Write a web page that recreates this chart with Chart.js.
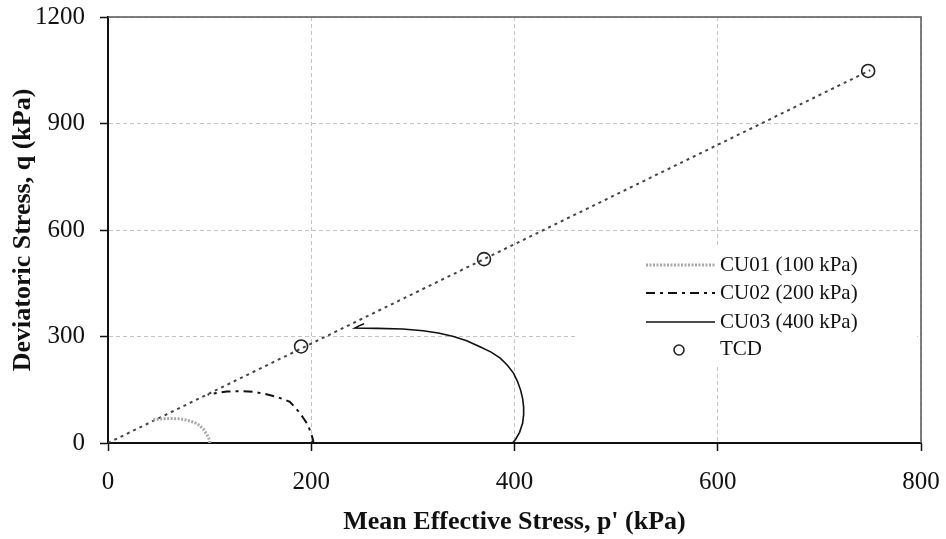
<!DOCTYPE html>
<html>
<head>
<meta charset="utf-8">
<script src="https://cdn.jsdelivr.net/npm/chart.js@4/dist/chart.umd.min.js"></script>
<style>
  html, body { margin: 0; padding: 0; background: #fff; }
  #wrap { width: 946px; height: 539px; }
</style>
</head>
<body>
<div id="wrap"><canvas id="chart"></canvas></div>
<script>
// stress paths, p' and q in kPa
const cu01P = [100, 100, 99, 97, 94, 90, 85, 78, 71, 62, 54, 46, 43];
const cu01Q = [0, 6, 14, 25, 38, 50, 58, 64, 68, 69, 68, 66, 64];

const cu02P = [200, 202, 201, 199, 197, 193, 189, 184, 179, 172, 166, 155, 143, 130, 117, 103, 98];
const cu02Q = [0, 6, 17, 33, 50, 67, 84, 100, 116, 124, 130, 138, 144, 146, 145, 139, 136];

const cu03P = [398, 401, 405, 408, 409, 409, 408, 406, 403, 399, 393, 386, 377, 366, 353, 340, 325, 310, 290, 265, 243, 247, 252];
const cu03Q = [0, 10, 30, 56, 80, 101, 125, 149, 173, 197, 219, 239, 256, 271, 288, 300, 310, 316, 321, 323, 324, 330, 336];

// TCD points and the critical state line through them
const tcdP = [190, 370, 748];
const tcdQ = [272, 518, 1048];
const cslP = [0, 750];
const cslQ = [0, 1050];

const xTicks = [0, 200, 400, 600, 800];
const yTicks = [0, 300, 600, 900, 1200];

const serif = "'Liberation Serif', 'Times New Roman', serif";

function pts(ps, qs) {
  return ps.map((p, i) => ({ x: p, y: qs[i] }));
}

// white legend box inside the plot, drawn over the grid but under the data
const legendBox = {
  id: 'legendBox',
  beforeDatasetsDraw(chart) {
    const ctx = chart.ctx;
    ctx.save();
    ctx.fillStyle = '#fff';
    ctx.fillRect(578, 245, 339, 122);

    const rows = [265, 293, 322, 349];
    const x1 = 646, x2 = 715, tx = 720;
    ctx.font = '21px ' + serif;
    ctx.textBaseline = 'middle';
    ctx.textAlign = 'left';
    chart.data.datasets.filter(d => d.label).forEach((ds, i) => {
      const y = rows[i];
      if (ds.showLine) {
        ctx.strokeStyle = ds.borderColor;
        ctx.lineWidth = ds.borderWidth;
        ctx.setLineDash(ds.borderDash || []);
        ctx.beginPath();
        ctx.moveTo(x1, y);
        ctx.lineTo(x2, y);
        ctx.stroke();
        ctx.setLineDash([]);
      } else {
        ctx.strokeStyle = ds.pointBorderColor;
        ctx.lineWidth = 1.6;
        ctx.beginPath();
        ctx.arc(679, y + 1, 5, 0, Math.PI * 2);
        ctx.stroke();
      }
      ctx.fillStyle = '#111';
      ctx.fillText(ds.label, tx, y);
    });
    ctx.restore();
  }
};

// dark frame along the top and right of the plot
const frame = {
  id: 'frame',
  afterDatasetsDraw(chart) {
    const { ctx, chartArea: a } = chart;
    ctx.save();
    ctx.strokeStyle = '#555';
    ctx.lineWidth = 1.5;
    ctx.beginPath();
    ctx.moveTo(a.left, a.top);
    ctx.lineTo(a.right, a.top);
    ctx.lineTo(a.right, a.bottom);
    ctx.stroke();
    ctx.restore();
  }
};

const plain = v => String(v);

new Chart(document.getElementById('chart'), {
  type: 'scatter',
  data: {
    datasets: [
      {
        label: 'CU01 (100 kPa)',
        data: pts(cu01P, cu01Q),
        showLine: true,
        borderColor: '#a8a8a8',
        borderWidth: 3,
        borderDash: [2, 1.5],
        pointRadius: 0,
        fill: false
      },
      {
        label: 'CU02 (200 kPa)',
        data: pts(cu02P, cu02Q),
        showLine: true,
        borderColor: '#111',
        borderWidth: 2,
        borderDash: [9, 5, 3, 5],
        pointRadius: 0,
        fill: false
      },
      {
        label: 'CU03 (400 kPa)',
        data: pts(cu03P, cu03Q),
        showLine: true,
        borderColor: '#111',
        borderWidth: 1.6,
        pointRadius: 0,
        fill: false
      },
      {
        label: 'TCD',
        data: pts(tcdP, tcdQ),
        showLine: false,
        pointRadius: 6.5,
        pointBorderWidth: 1.6,
        pointBorderColor: '#222',
        pointBackgroundColor: 'rgba(0,0,0,0)'
      },
      {
        label: '',
        data: pts(cslP, cslQ),
        showLine: true,
        borderColor: '#444',
        borderWidth: 2,
        borderDash: [3, 4],
        pointRadius: 0,
        fill: false
      }
    ]
  },
  options: {
    responsive: true,
    maintainAspectRatio: false,
    animation: false,
    layout: { padding: { top: 17, right: 25, left: 0, bottom: 0 } },
    plugins: {
      legend: { display: false },
      tooltip: { enabled: false }
    },
    scales: {
      x: {
        type: 'linear',
        min: 0,
        max: 800,
        afterBuildTicks: s => { s.ticks = xTicks.map(v => ({ value: v })); },
        afterFit: s => { s.height = 96; s.paddingLeft = 0; s.paddingRight = 0; },
        ticks: {
          color: '#111',
          padding: 16,
          maxRotation: 0,
          callback: plain,
          font: { family: serif, size: 25, lineHeight: 1.2 }
        },
        grid: {
          color: '#c4c4c4',
          lineWidth: 1,
          tickLength: 8,
          tickColor: '#111',
          tickWidth: 1.5
        },
        border: { display: true, color: '#111', width: 2, dash: [4, 3] },
        title: {
          display: true,
          text: "Mean Effective Stress, p' (kPa)",
          color: '#111',
          padding: { top: 0, bottom: 1 },
          font: { family: serif, size: 26, weight: 'bold', lineHeight: 1.2 }
        }
      },
      y: {
        type: 'linear',
        min: 0,
        max: 1200,
        afterBuildTicks: s => { s.ticks = yTicks.map(v => ({ value: v })); },
        afterFit: s => { s.width = 108; s.paddingTop = 0; s.paddingBottom = 0; },
        ticks: {
          color: '#111',
          padding: 15,
          callback: plain,
          font: { family: serif, size: 25, lineHeight: 1.2 }
        },
        grid: {
          color: '#c4c4c4',
          lineWidth: 1,
          tickLength: 8,
          tickColor: '#111',
          tickWidth: 1.5
        },
        border: { display: true, color: '#111', width: 2, dash: [4, 3] },
        title: {
          display: true,
          text: 'Deviatoric Stress, q (kPa)',
          color: '#111',
          padding: { top: 8, bottom: 0 },
          font: { family: serif, size: 26, weight: 'bold', lineHeight: 1.2 }
        }
      }
    }
  },
  plugins: [legendBox, frame]
});
</script>
</body>
</html>
